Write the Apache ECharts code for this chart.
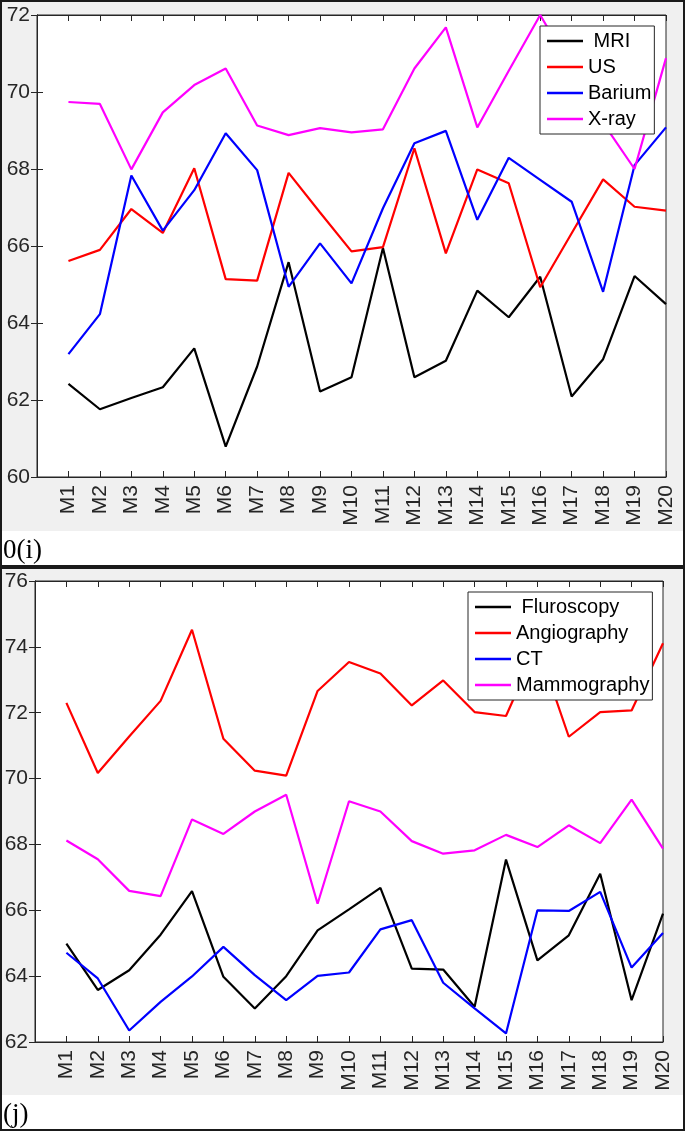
<!DOCTYPE html>
<html>
<head>
<meta charset="utf-8">
<script src="https://cdn.jsdelivr.net/npm/echarts@6/dist/echarts.min.js"></script>
<style>
html,body{margin:0;padding:0;background:#fff;}
#chart{width:685px;height:1132px;}
</style>
</head>
<body>
<div id="chart"></div>
<script>
// ---- data ----
const categories = ['M1','M2','M3','M4','M5','M6','M7','M8','M9','M10','M11','M12','M13','M14','M15','M16','M17','M18','M19','M20'];

// panel (i)
const yTicksI = [60, 62, 64, 66, 68, 70, 72];
const mri    = [62.42, 61.76, 62.05, 62.33, 63.34, 60.79, 62.87, 65.58, 62.22, 62.59, 65.95, 62.59, 63.02, 64.84, 64.15, 65.20, 62.09, 63.06, 65.22, 64.49];
const us     = [65.61, 65.90, 66.96, 66.34, 68.02, 65.14, 65.10, 67.90, 66.87, 65.86, 65.97, 68.54, 65.81, 67.99, 67.63, 64.93, 66.33, 67.73, 67.02, 66.92];
const barium = [63.19, 64.23, 67.83, 66.40, 67.45, 68.93, 67.97, 64.94, 66.07, 65.03, 66.98, 68.67, 68.99, 66.68, 68.29, 67.72, 67.15, 64.81, 68.10, 69.08];
const xray   = [69.74, 69.69, 67.99, 69.47, 70.18, 70.61, 69.13, 68.88, 69.06, 68.95, 69.03, 70.61, 71.68, 69.08, 70.55, 72.00, 70.60, 69.20, 68.00, 70.88];

// panel (j)
const yTicksJ = [62, 64, 66, 68, 70, 72, 74, 76];
const fluro  = [64.99, 63.58, 64.18, 65.26, 66.58, 63.98, 63.02, 64.00, 65.39, 66.03, 66.68, 64.23, 64.20, 63.07, 67.54, 64.48, 65.24, 67.11, 63.27, 65.90];
const angio  = [72.30, 70.17, 71.28, 72.36, 74.52, 71.21, 70.24, 70.09, 72.66, 73.54, 73.19, 72.22, 72.98, 72.02, 71.90, 74.05, 71.27, 72.02, 72.07, 74.11];
const ct     = [64.71, 63.93, 62.35, 63.22, 63.99, 64.89, 64.03, 63.27, 64.01, 64.11, 65.42, 65.70, 63.80, 63.02, 62.26, 66.00, 65.98, 66.56, 64.26, 65.31];
const mammo  = [68.12, 67.55, 66.59, 66.43, 68.76, 68.32, 69.00, 69.51, 66.20, 69.31, 69.00, 68.10, 67.72, 67.82, 68.29, 67.92, 68.58, 68.04, 69.36, 67.87];

const seriesI = [
  {name: ' MRI', values: mri, color: '#000000'},
  {name: 'US', values: us, color: '#ff0000'},
  {name: 'Barium', values: barium, color: '#0000ff'},
  {name: 'X-ray', values: xray, color: '#ff00ff'}
];
const seriesJ = [
  {name: ' Fluroscopy', values: fluro, color: '#000000'},
  {name: 'Angiography', values: angio, color: '#ff0000'},
  {name: 'CT', values: ct, color: '#0000ff'},
  {name: 'Mammography', values: mammo, color: '#ff00ff'}
];

// ---- chart ----
const AX = '#262626';
const FONT = 'Liberation Sans, Arial, sans-serif';
const toPairs = vals => vals.map((v, i) => [i + 1, v]);

function xAxes(gridIndex) {
  const base = {
    gridIndex, type: 'value', min: 0, max: categories.length, interval: 1,
    splitLine: {show: false},
    axisLine: {show: true, lineStyle: {color: AX, width: 1}},
    axisTick: {show: true, inside: true, length: 6, lineStyle: {color: AX}}
  };
  return [
    Object.assign({}, base, {
      position: 'bottom',
      axisLabel: {
        show: true, rotate: 90, margin: 8, fontSize: 21, fontFamily: FONT, color: AX,
        formatter: v => (v >= 1 && v <= categories.length) ? categories[v - 1] : ''
      }
    }),
    Object.assign({}, base, {position: 'top', axisLabel: {show: false}})
  ];
}
function yAxes(gridIndex, ticks) {
  const base = {
    gridIndex, type: 'value', min: ticks[0], max: ticks[ticks.length - 1],
    interval: ticks[1] - ticks[0],
    splitLine: {show: false},
    axisLine: {show: true, lineStyle: {color: AX, width: 1}},
    axisTick: {show: true, inside: true, length: 6, lineStyle: {color: AX}}
  };
  return [
    Object.assign({}, base, {
      position: 'left',
      axisLabel: {show: true, margin: 7, fontSize: 21, fontFamily: FONT, color: AX}
    }),
    Object.assign({}, base, {position: 'right', axisLabel: {show: false}})
  ];
}
function makeSeries(list, axisIdx) {
  return list.map(s => ({
    name: s.name, type: 'line', xAxisIndex: axisIdx, yAxisIndex: axisIdx,
    data: toPairs(s.values), symbol: 'none', showSymbol: false,
    lineStyle: {color: s.color, width: 2.2}, itemStyle: {color: s.color},
    z: 2
  }));
}
function makeLegend(list, left, top) {
  return {
    data: list.map(s => ({name: s.name, icon: 'rect', itemStyle: {color: s.color}})),
    orient: 'vertical', left, top,
    itemWidth: 36, itemHeight: 2.5, itemGap: 6, padding: [5, 3, 5, 7],
    backgroundColor: '#ffffff', borderColor: AX, borderWidth: 1, borderRadius: 0,
    textStyle: {fontSize: 20, fontFamily: FONT, color: '#000', lineHeight: 20},
    selectedMode: false, z: 10
  };
}

const chart = echarts.init(document.getElementById('chart'), null, {renderer: 'canvas'});
chart.setOption({
  animation: false,
  backgroundColor: '#ffffff',
  grid: [
    {left: 37, top: 15, width: 629, height: 462, show: true, backgroundColor: '#ffffff', borderColor: AX, borderWidth: 1},
    {left: 35, top: 581, width: 628, height: 461, show: true, backgroundColor: '#ffffff', borderColor: AX, borderWidth: 1}
  ],
  xAxis: [...xAxes(0), ...xAxes(1)],
  yAxis: [...yAxes(0, yTicksI), ...yAxes(1, yTicksJ)],
  legend: [makeLegend(seriesI, 540, 26), makeLegend(seriesJ, 468, 592)],
  series: [...makeSeries(seriesI, 0), ...makeSeries(seriesJ, 2)],
  graphic: [
    {type: 'rect', z: -100, shape: {x: 0, y: 0, width: 685, height: 531}, style: {fill: '#f0f0f0'}, silent: true},
    {type: 'rect', z: -100, shape: {x: 0, y: 567, width: 685, height: 528}, style: {fill: '#f0f0f0'}, silent: true},
    {type: 'rect', z: 50, shape: {x: 1, y: 1, width: 683, height: 565}, style: {fill: 'none', stroke: '#1a1a1a', lineWidth: 2}, silent: true},
    {type: 'rect', z: 50, shape: {x: 1, y: 568, width: 683, height: 562}, style: {fill: 'none', stroke: '#1a1a1a', lineWidth: 2}, silent: true},
    {type: 'text', z: 50, x: 3, y: 551, style: {text: '0(i)', fontSize: 27, fontFamily: 'Liberation Serif, serif', fill: '#000', verticalAlign: 'middle'}},
    {type: 'text', z: 50, x: 3, y: 1115, style: {text: '(j)', fontSize: 27, fontFamily: 'Liberation Serif, serif', fill: '#000', verticalAlign: 'middle'}}
  ]
});
</script>
</body>
</html>
